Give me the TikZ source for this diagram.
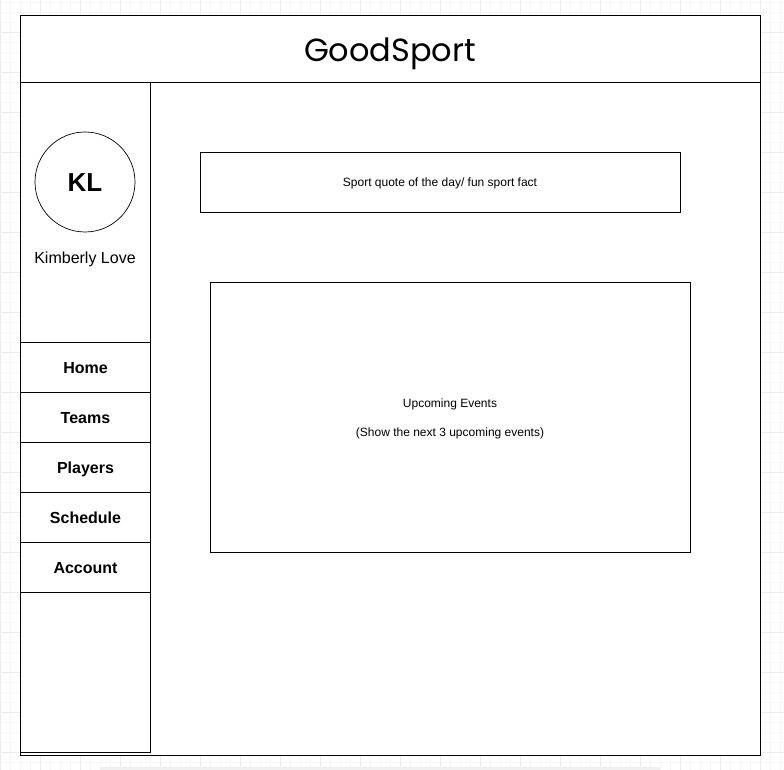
\documentclass[tikz,border=0pt]{standalone}
\usepackage{fontspec}
\setmainfont{Liberation Sans}
\newfontfamily\titlefont{Poppins}
\definecolor{gridminor}{RGB}{246,246,246}
\definecolor{gridmajor}{RGB}{236,236,236}
\definecolor{scrollbar}{RGB}{240,240,240}
\begin{document}
\begin{tikzpicture}[x=1pt,y=-1pt,
  frame/.style={draw=black,line width=1pt,fill=white},
  navitem/.style={draw=black,line width=1pt,minimum width=130pt,minimum height=50pt,inner sep=0pt,text height=14pt,text depth=2pt,font=\fontsize{16}{19}\selectfont\bfseries},
  smalltxt/.style={font=\fontsize{12}{14}\selectfont},
  minorgrid/.style={draw=gridminor,line width=0.8pt},
  majorgrid/.style={draw=gridmajor,line width=0.8pt}]
\useasboundingbox (0,0) rectangle (784,770);
\fill[white] (0,0) rectangle (784,770);
% grid
\foreach \x in {0,10,...,780} \draw[minorgrid] (\x,0) -- (\x,770);
\foreach \y in {2,12,...,770} \draw[minorgrid] (0,\y) -- (784,\y);
\foreach \x in {0,40,...,780} \draw[majorgrid] (\x,0) -- (\x,770);
\foreach \y in {32,72,...,770} \draw[majorgrid] (0,\y) -- (784,\y);
\fill[scrollbar] (100,767) rectangle (660,770);
% main frame
\node[frame,minimum width=740pt,minimum height=740pt,inner sep=0pt,anchor=north west] (main) at (20,15) {};
\node[draw=black,line width=1pt,minimum width=740pt,minimum height=67pt,inner sep=0pt,anchor=north west] (header) at (20,15) {};
\node[font=\fontsize{32}{38}\selectfont,anchor=base] (title) at (390,62) {\titlefont GoodSport};
\node[draw=black,line width=1pt,minimum width=130pt,minimum height=670pt,inner sep=0pt,anchor=north west] (sidebar) at (20,82) {};
% profile
\node[circle,draw=black,line width=0.7pt,minimum size=100pt,inner sep=0pt] (avatar) at (85,182) {};
\node[font=\fontsize{26}{30}\selectfont\bfseries] (initials) at (85,183) {KL};
\node[font=\fontsize{16}{19}\selectfont] (name) at (85,259) {Kimberly Love};
% nav
\node[navitem,anchor=north west] (home) at (20,342) {Home};
\node[navitem,anchor=north west] (teams) at (20,392) {Teams};
\node[navitem,anchor=north west] (players) at (20,442) {Players};
\node[navitem,anchor=north west] (schedule) at (20,492) {Schedule};
\node[navitem,anchor=north west] (account) at (20,542) {Account};
% content
\node[draw=black,line width=1pt,minimum width=480pt,minimum height=60pt,inner sep=0pt,anchor=north west] (quote) at (200,152) {};
\node[smalltxt] (quotetext) at (440,183) {Sport quote of the day/ fun sport fact};
\node[draw=black,line width=1pt,minimum width=480pt,minimum height=270pt,inner sep=0pt,anchor=north west] (events) at (210,282) {};
\node[smalltxt] (evtitle) at (450,404) {Upcoming Events};
\node[smalltxt] (evnote) at (450,433) {(Show the next 3 upcoming events)};
\end{tikzpicture}
\end{document}
